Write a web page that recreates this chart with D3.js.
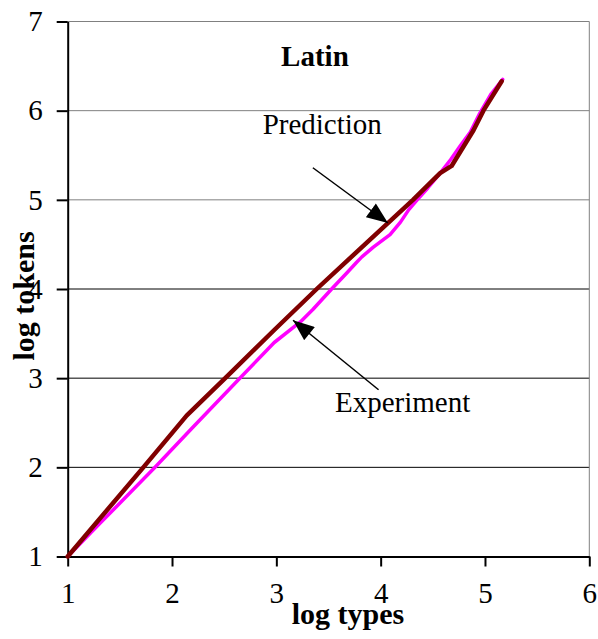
<!DOCTYPE html>
<html>
<head>
<meta charset="utf-8">
<script src="https://cdn.jsdelivr.net/npm/d3@7"></script>
<style>
  body { margin: 0; background: #fff; }
  text { font-family: "Liberation Serif", "Times New Roman", serif; }
</style>
</head>
<body>
<svg id="chart" width="598" height="639"></svg>
<script>
// Prediction curve (log types, log tokens)
const predX = [1, 1.725, 2.14, 2.51, 2.98, 3.387, 4.31, 4.57, 4.68, 4.89, 4.985, 5.16];
const predY = [1, 2.0, 2.58, 3.0, 3.54, 4.0, 5.0, 5.30, 5.38, 5.78, 6.0, 6.33];

// Experiment curve
const expX = [1, 1.3, 1.837, 2.2, 2.65, 2.98, 3.23, 3.35, 3.53, 3.675, 3.77, 3.82, 3.93, 4.09, 4.19, 4.27, 4.35, 4.45, 4.57, 4.67, 4.76, 4.86, 4.95, 5.06, 5.17];
const expY = [1, 1.36, 2.0, 2.45, 3.0, 3.40, 3.63, 3.77, 4.0, 4.18, 4.30, 4.36, 4.47, 4.61, 4.75, 4.89, 5.0, 5.13, 5.30, 5.45, 5.60, 5.76, 5.97, 6.19, 6.35];

const xTicks = [1, 2, 3, 4, 5, 6];
const yTicks = [1, 2, 3, 4, 5, 6, 7];

const serif = "'Liberation Serif', 'Times New Roman', serif";

const svg = d3.select("#chart"),
      margin = {top: 21.5, right: 8.7, bottom: 82.5, left: 67.7},
      width = +svg.attr("width") - margin.left - margin.right,
      height = +svg.attr("height") - margin.top - margin.bottom;

const g = svg.append("g").attr("transform", `translate(${margin.left},${margin.top})`);

const x = d3.scaleLinear().domain([1, 6]).range([0, width]);
const y = d3.scaleLinear().domain([1, 7]).range([height, 0]);

// gridlines
g.selectAll("line.grid")
  .data(yTicks.filter(d => d > 1))
  .enter().append("line")
    .attr("class", "grid")
    .attr("x1", 0)
    .attr("x2", width)
    .attr("y1", d => y(d))
    .attr("y2", d => y(d))
    .attr("stroke", d => d >= 5 ? "#808080" : "#000")
    .attr("stroke-width", 1);

// right border
g.append("line")
  .attr("x1", width).attr("x2", width)
  .attr("y1", 0).attr("y2", height)
  .attr("stroke", "#808080")
  .attr("stroke-width", 1);

// axes
const xAxis = g.append("g")
  .attr("transform", `translate(0,${height})`)
  .call(d3.axisBottom(x).tickValues(xTicks).tickFormat(d3.format("d"))
    .tickSize(10).tickSizeOuter(0).tickPadding(16));
const yAxis = g.append("g")
  .call(d3.axisLeft(y).tickValues(yTicks).tickFormat(d3.format("d"))
    .tickSize(11).tickSizeOuter(0).tickPadding(14));

[xAxis, yAxis].forEach(a => {
  a.attr("font-family", serif).attr("font-size", 29);
  a.select(".domain").attr("stroke", "#000").attr("stroke-width", 2);
  a.selectAll(".tick line").attr("stroke", "#000").attr("stroke-width", 2);
  a.selectAll(".tick text")
    .style("font-family", serif)
    .style("font-size", "29px")
    .attr("fill", "#000");
});

// lines
const line = d3.line().x(d => x(d[0])).y(d => y(d[1]));

g.append("path")
  .datum(d3.zip(expX, expY))
  .attr("fill", "none")
  .attr("stroke", "#ff00ff")
  .attr("stroke-width", 3.5)
  .attr("stroke-linejoin", "round")
  .attr("stroke-linecap", "round")
  .attr("d", line);

g.append("path")
  .datum(d3.zip(predX, predY))
  .attr("fill", "none")
  .attr("stroke", "#800000")
  .attr("stroke-width", 4.5)
  .attr("stroke-linejoin", "round")
  .attr("stroke-linecap", "round")
  .attr("d", line);

// arrow marker
svg.append("defs").append("marker")
  .attr("id", "arrow")
  .attr("viewBox", "0 0 20 16")
  .attr("refX", 20)
  .attr("refY", 8)
  .attr("markerWidth", 22)
  .attr("markerHeight", 17)
  .attr("markerUnits", "userSpaceOnUse")
  .attr("orient", "auto")
  .append("path")
    .attr("d", "M0,0 L20,8 L0,16 Z")
    .attr("fill", "#000");

// annotations (data coords)
const arrows = [
  {from: [3.35, 5.36], to: [4.07, 4.74]},
  {from: [3.98, 2.87], to: [3.16, 3.65]}
];
g.selectAll("line.arrow")
  .data(arrows)
  .enter().append("line")
    .attr("class", "arrow")
    .attr("x1", d => x(d.from[0]))
    .attr("y1", d => y(d.from[1]))
    .attr("x2", d => x(d.to[0]))
    .attr("y2", d => y(d.to[1]))
    .attr("stroke", "#000")
    .attr("stroke-width", 1.5)
    .attr("marker-end", "url(#arrow)");

const labels = [
  {text: "Latin", at: [3.37, 6.5], bold: true},
  {text: "Prediction", at: [3.44, 5.74], bold: false},
  {text: "Experiment", at: [4.21, 2.62], bold: false}
];
g.selectAll("text.label")
  .data(labels)
  .enter().append("text")
    .attr("class", "label")
    .attr("x", d => x(d.at[0]))
    .attr("y", d => y(d.at[1]))
    .attr("text-anchor", "middle")
    .style("font-size", "29px")
    .style("font-weight", d => d.bold ? "bold" : "normal")
    .text(d => d.text);

// axis titles
svg.append("text")
  .attr("x", 348)
  .attr("y", 624)
  .attr("text-anchor", "middle")
  .style("font-size", "30px")
  .style("font-weight", "bold")
  .text("log types");

svg.append("text")
  .attr("transform", "translate(34,296) rotate(-90)")
  .attr("text-anchor", "middle")
  .style("font-size", "30px")
  .style("font-weight", "bold")
  .text("log tokens");
</script>
</body>
</html>
